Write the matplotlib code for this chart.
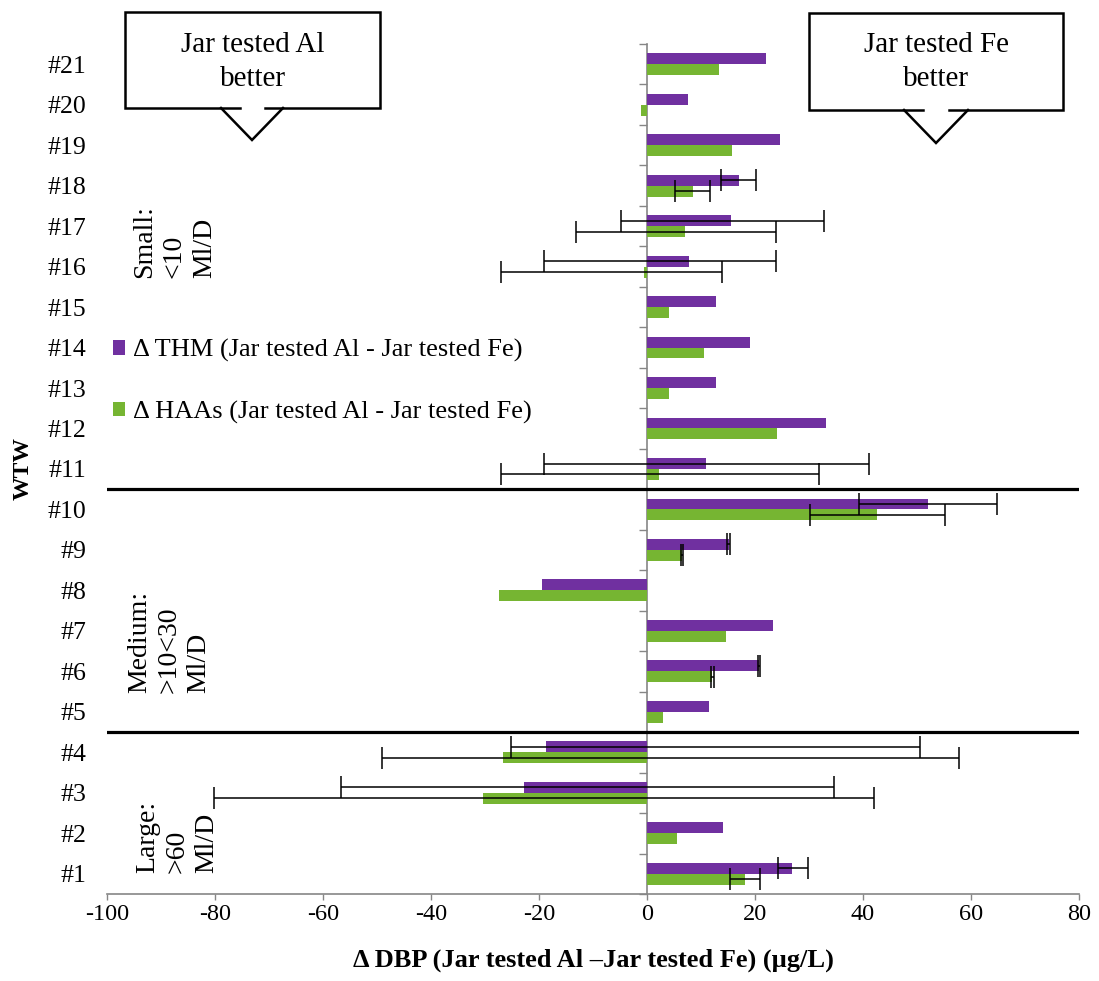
import numpy as np
import matplotlib.pyplot as plt
from matplotlib.lines import Line2D

plt.rcParams['font.family'] = ['Liberation Serif', 'DejaVu Serif']

nan = np.nan

# WTW #1 .. #21
wtw = ['#%d' % i for i in range(1, 22)]

# delta THM and delta HAAs (Jar tested Al - Jar tested Fe), ug/L
thm = [26.9, 14.1, -22.8, -18.8, 11.4, 20.8, 23.4, -19.5, 15.1, 52.1,
       10.9, 33.1, 12.7, 19.1, 12.7, 7.7, 15.6, 17.0, 24.6, 7.5, 22.0]
haa = [18.1, 5.6, -30.4, -26.6, 3.0, 12.0, 14.6, -27.4, 6.5, 42.6,
       2.3, 24.1, 4.1, 10.6, 4.1, -0.6, 7.0, 8.5, 15.8, -1.2, 13.4]

# error bar ends (nan = no error bar)
thm_lo = [24.3, nan, -56.7, -25.1, nan, 20.6, nan, nan, 14.9, 39.2,
          -19.1, nan, nan, nan, nan, -19.1, -4.9, 13.7, nan, nan, nan]
thm_hi = [29.9, nan, 34.6, 50.6, nan, 21.0, nan, nan, 15.3, 64.8,
          41.1, nan, nan, nan, nan, 23.8, 32.8, 20.2, nan, nan, nan]
haa_lo = [15.4, nan, -80.2, -49.1, nan, 11.8, nan, nan, 6.3, 30.2,
          -27.0, nan, nan, nan, nan, -27.0, -13.2, 5.2, nan, nan, nan]
haa_hi = [20.9, nan, 42.0, 57.7, nan, 12.4, nan, nan, 6.7, 55.1,
          31.9, nan, nan, nan, nan, 13.8, 23.8, 11.7, nan, nan, nan]

purple = '#7030A0'
green = '#76B532'
grey = '#868686'

fig = plt.figure(figsize=(10.99, 9.81), dpi=100)
ax = fig.add_axes([0.0974, 0.0887, 0.8844, 0.8665])

pos = np.arange(len(wtw))
h = 0.27
ax.barh(pos + h / 2, thm, height=h, color=purple,
        label='\u0394 THM (Jar tested Al - Jar tested Fe)', zorder=2)
ax.barh(pos - h / 2, haa, height=h, color=green,
        label='\u0394 HAAs (Jar tested Al - Jar tested Fe)', zorder=2)


def draw_err(y, vals, lo, hi):
    vals, lo, hi = np.array(vals), np.array(lo), np.array(hi)
    m = ~np.isnan(lo)
    ax.errorbar(vals[m], y[m], xerr=[vals[m] - lo[m], hi[m] - vals[m]],
                fmt='none', ecolor='black', elinewidth=1.1, capsize=8,
                capthick=1.1, zorder=3)


draw_err(pos + h / 2, thm, thm_lo, thm_hi)
draw_err(pos - h / 2, haa, haa_lo, haa_hi)

ax.set_xlim(-100, 80)
ax.set_ylim(-0.5, len(wtw) - 0.5)
ax.set_xticks(np.arange(-100, 81, 20))
ax.set_xticklabels(['%d' % v for v in np.arange(-100, 81, 20)])
ax.set_yticks(pos)
ax.set_yticklabels(wtw, fontsize=18.5)
ax.tick_params(axis='y', length=0, pad=15)
ax.tick_params(axis='x', length=4, width=1, color=grey, labelsize=17.5, pad=3)

for s in ['top', 'right', 'left']:
    ax.spines[s].set_visible(False)
ax.spines['bottom'].set_color(grey)
ax.spines['bottom'].set_linewidth(1.2)

# vertical axis at zero with category boundary ticks
sec = ax.secondary_yaxis(100 / 180)
sec.set_yticks(np.arange(-0.5, len(wtw), 1.0))
sec.set_yticklabels([])
sec.tick_params(axis='y', direction='in', length=6, width=1, color=grey)
for sp in sec.spines.values():
    sp.set_color(grey)
    sp.set_linewidth(1.2)

# size group separators
for yb in [9.5, 3.5]:
    ax.axhline(yb, color='black', lw=2.3, zorder=4)

ax.set_xlabel('\u0394 DBP (Jar tested Al \u2013Jar tested Fe) (\u00b5g/L)',
              fontsize=19, fontweight='bold', labelpad=17)
ax.set_ylabel('WTW', fontsize=17, fontweight='bold', labelpad=10)

groups = [('Small:\n<10\nMl/D', 14.71, -87.5),
          ('Medium:\n>10<30\nMl/D', 4.46, -88.5),
          ('Large:\n>60\nMl/D', 0.02, -87.0)]
for txt, yb, xc in groups:
    ax.text(xc, yb, txt, rotation=90, ha='center', va='bottom',
            multialignment='left', fontsize=20, linespacing=1.25)

ax.legend(loc='center left', bbox_to_anchor=(0.006, 0.603), frameon=False,
          fontsize=19, handlelength=0.45, handleheight=0.45,
          handletextpad=0.3, labelspacing=1.45, borderpad=0, borderaxespad=0)

# callout boxes (figure pixel coordinates)
W, H = 1099.0, 981.0


def fig_line(xs, ys):
    fig.add_artist(Line2D([x / W for x in xs], [1 - y / H for y in ys],
                          color='black', lw=1.8, transform=fig.transFigure,
                          solid_joinstyle='miter'))


def callout(x0, x1, y0, y1, gap0, gap1, w0, w1, tip_x, tip_y, text):
    fig_line([gap0, x0, x0, x1, x1, gap1], [y1, y1, y0, y0, y1, y1])
    fig_line([w0, tip_x, w1], [y1, tip_y, y1])
    fig.text((x0 + x1) / 2 / W, 1 - 62 / H, text,
             ha='center', va='center', fontsize=21, linespacing=1.4)


callout(125, 380, 12, 108, 240, 265, 221, 283, 252, 140,
        'Jar tested Al\nbetter')
callout(809, 1063, 13, 110, 923, 949, 904, 968, 936, 143,
        'Jar tested Fe\nbetter')

fig.savefig('out.png', dpi=100)
